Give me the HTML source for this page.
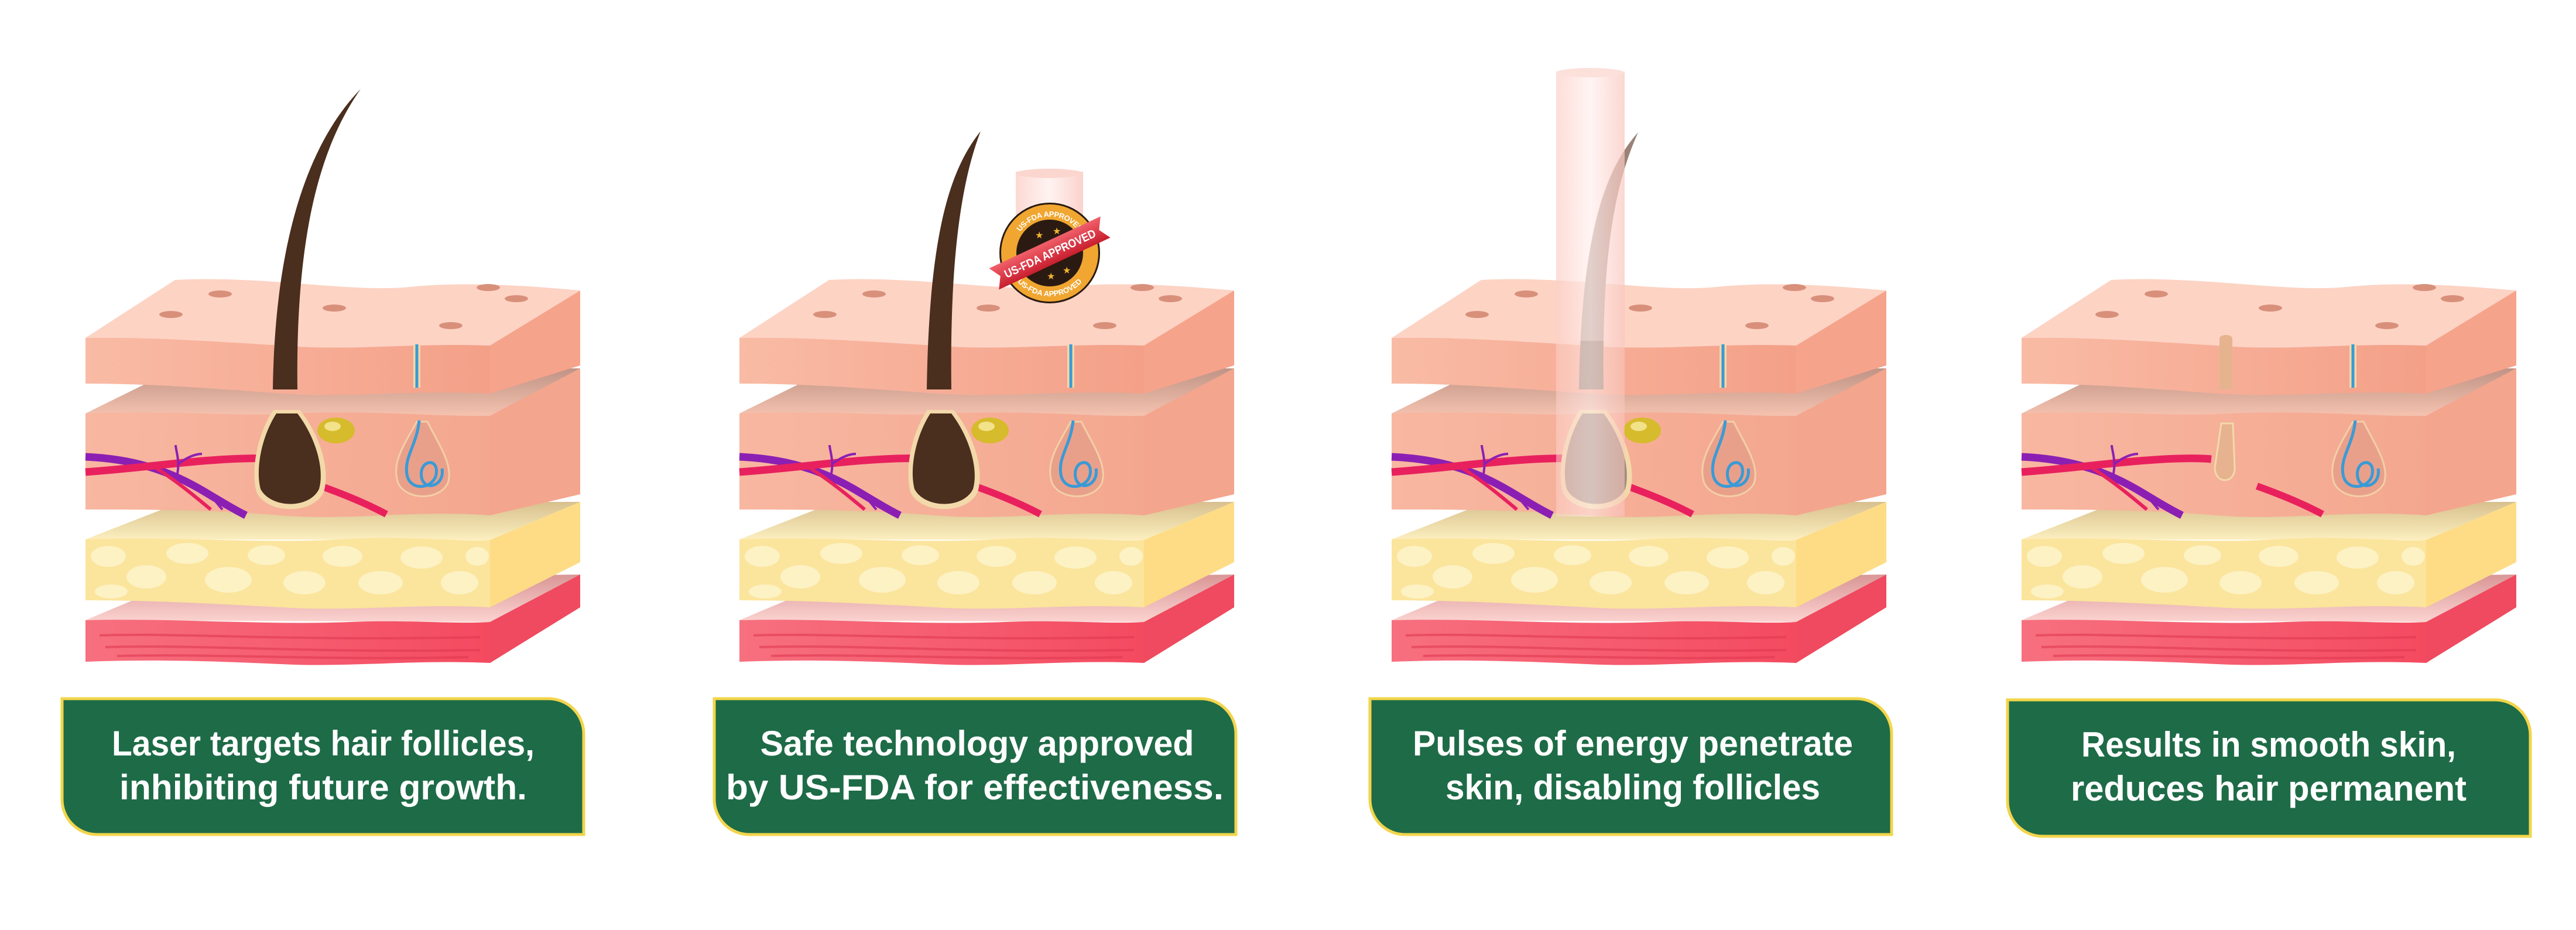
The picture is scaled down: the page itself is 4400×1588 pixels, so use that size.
<!DOCTYPE html>
<html><head><meta charset="utf-8"><style>
html,body{margin:0;padding:0;background:#fff;}
svg{display:block;}
</style></head><body>
<svg width="4400" height="1588" viewBox="0 0 4400 1588" xmlns="http://www.w3.org/2000/svg" font-family="'Liberation Sans', sans-serif">
<defs>
<linearGradient id="epiF" x1="0" x2="1"><stop offset="0" stop-color="#f9bba5"/><stop offset="1" stop-color="#f4a088"/></linearGradient>
<linearGradient id="derT" x1="0" y1="0" x2="0" y2="1"><stop offset="0" stop-color="#bf9385"/><stop offset="1" stop-color="#f6c3b0"/></linearGradient>
<linearGradient id="derF" x1="0" x2="1"><stop offset="0" stop-color="#f8b7a1"/><stop offset="1" stop-color="#f4a78f"/></linearGradient>
<linearGradient id="fatT" x1="0" y1="0" x2="0" y2="1"><stop offset="0" stop-color="#d8c08e"/><stop offset="1" stop-color="#fcefbf"/></linearGradient>
<linearGradient id="musT" x1="0" y1="0" x2="0" y2="1"><stop offset="0" stop-color="#d99696"/><stop offset="1" stop-color="#fbd3d0"/></linearGradient>
<linearGradient id="musF" x1="0" x2="1"><stop offset="0" stop-color="#f7707f"/><stop offset="1" stop-color="#f44a60"/></linearGradient>
<linearGradient id="tube" x1="0" x2="1"><stop offset="0" stop-color="#fcd0c8"/><stop offset="0.5" stop-color="#fff0ee"/><stop offset="1" stop-color="#f9c7bf"/></linearGradient>
<linearGradient id="rib" x1="0" y1="0" x2="0" y2="1"><stop offset="0" stop-color="#f0606a"/><stop offset="1" stop-color="#c81e2e"/></linearGradient>
<path id="ringTop" d="M-66,0 A66,66 0 0 1 66,0"/>
<path id="ringBot" d="M-74,0 A74,74 0 0 0 74,0"/>

<g id="skin">
  <path d="M146,1059 L310,990 L991,981 L837,1062 Z" fill="url(#musT)"/>
  <path d="M146,1059 C300,1055 450,1068 600,1062 C700,1058 780,1066 837,1062 L837,1132 C700,1126 600,1140 480,1134 C350,1128 250,1126 146,1130 Z" fill="url(#musF)"/>
  <path d="M170,1085 C300,1080 500,1095 820,1088 M180,1105 C350,1100 500,1115 820,1110 M200,1120 C380,1116 560,1128 800,1122" stroke="#e03850" stroke-width="4" fill="none" opacity="0.6"/>
  <path d="M837,1062 L991,981 L991,1037 L837,1132 Z" fill="#ef4a5f"/>
  <path d="M146,921 L310,857 L991,857 L837,922 Z" fill="url(#fatT)"/>
  <path d="M146,921 C300,915 450,930 600,920 C700,915 780,925 837,922 L837,1037 C700,1030 600,1045 480,1037 C350,1030 250,1025 146,1025 Z" fill="#fbe49c"/>
  <g fill="#fdf2c4">
    <ellipse cx="185" cy="950" rx="30" ry="18"/><ellipse cx="250" cy="985" rx="34" ry="20"/><ellipse cx="320" cy="945" rx="36" ry="18"/>
    <ellipse cx="390" cy="990" rx="40" ry="22"/><ellipse cx="455" cy="948" rx="32" ry="17"/><ellipse cx="520" cy="995" rx="36" ry="20"/>
    <ellipse cx="585" cy="950" rx="34" ry="18"/><ellipse cx="650" cy="995" rx="38" ry="20"/><ellipse cx="720" cy="952" rx="36" ry="19"/>
    <ellipse cx="785" cy="995" rx="32" ry="20"/><ellipse cx="190" cy="1010" rx="28" ry="12"/><ellipse cx="815" cy="950" rx="20" ry="16"/>
  </g>
  <path d="M837,922 L991,857 L991,960 L837,1037 Z" fill="#fddc85"/>
  <path d="M146,706 L300,630 L991,629 L837,712 Z" fill="url(#derT)"/>
  <path d="M146,706 C300,700 400,712 500,706 C650,700 750,712 837,710 L837,880 C700,870 600,890 480,880 C350,870 250,870 146,870 Z" fill="url(#derF)"/>
  <path d="M837,710 L991,629 L991,844 L837,880 Z" fill="#f4a58d"/>
  <path d="M146,780 C240,784 300,810 350,840 C380,858 400,870 420,880" stroke="#8c1fb3" stroke-width="13" fill="none"/>
  <path d="M146,806 C230,800 300,790 360,786 C410,782 450,782 470,784" stroke="#e8215e" stroke-width="13" fill="none"/>
  <path d="M548,830 C590,845 630,862 660,878" stroke="#e8215e" stroke-width="12" fill="none"/>
  <path d="M300,820 C310,790 300,770 300,760 M305,792 C320,780 335,775 345,775 M330,830 C360,840 370,860 380,870" stroke="#8c1fb3" stroke-width="4" fill="none"/>
  <path d="M260,795 C300,820 330,845 360,870" stroke="#e8215e" stroke-width="6" fill="none"/>
  <path d="M712,720 C690,760 668,790 680,825 C695,855 750,855 765,825 C775,795 750,760 730,720 Z" fill="#e9a08a" stroke="#f3cfa7" stroke-width="3"/>
  <path d="M716,718 C712,760 690,780 695,810 C700,840 740,835 745,810 C750,780 715,785 720,815 C725,840 760,830 755,800" stroke="#3a9ad6" stroke-width="5" fill="none"/>
  <path d="M146,577 L299,478 C450,470 600,500 700,490 C800,480 900,488 991,496 L837,590 C700,585 600,600 480,590 C350,582 250,575 146,577 Z" fill="#fdd3c4"/>
  <path d="M146,577 C250,575 350,582 480,590 C600,600 700,585 837,590 L837,672 C700,665 600,680 480,672 C350,662 250,655 146,655 Z" fill="url(#epiF)"/>
  <path d="M837,590 L991,496 L991,624 L837,672 Z" fill="#f6a38b"/>
  <g fill="#d8907b">
    <ellipse cx="376" cy="502" rx="20" ry="6"/><ellipse cx="292" cy="537" rx="20" ry="6"/><ellipse cx="571" cy="526" rx="20" ry="6"/>
    <ellipse cx="834" cy="491" rx="20" ry="6"/><ellipse cx="882" cy="510" rx="20" ry="6"/><ellipse cx="770" cy="556" rx="20" ry="6"/>
  </g>
  <line x1="712" y1="588" x2="712" y2="662" stroke="#f3d8a8" stroke-width="12"/>
  <line x1="712" y1="588" x2="712" y2="662" stroke="#3a9ad6" stroke-width="5"/>
</g>

<g id="hairFull">
  <path d="M467,700 C440,740 428,800 438,840 C455,878 535,880 553,840 C565,800 545,740 512,700 Z" fill="#f3d9aa"/>
  <ellipse cx="574" cy="735" rx="32" ry="22" fill="#d6bb2c"/>
  <ellipse cx="568" cy="728" rx="14" ry="8" fill="#f2e28a"/>
</g>
</defs>

<use href="#skin"/>
<use href="#hairFull"/>
<path d="M472,706 C447,745 436,800 445,835 C462,868 528,870 545,835 C555,800 538,745 508,706 Z" fill="#4a2e1e"/>
<path d="M616,152 C540,230 470,380 466,665 L508,665 C505,420 540,260 616,152 Z" fill="#4a2e1e"/>

<g transform="translate(1117,0)">
  <use href="#skin"/>
  <use href="#hairFull"/>
  <path d="M472,706 C447,745 436,800 445,835 C462,868 528,870 545,835 C555,800 538,745 508,706 Z" fill="#4a2e1e"/>
  <path d="M558,224 C505,290 470,400 466,665 L508,665 C505,440 525,310 558,224 Z" fill="#4a2e1e"/>
</g>
<rect x="1735" y="293" width="115" height="140" fill="url(#tube)" opacity="0.8"/>
<ellipse cx="1792" cy="296" rx="57" ry="8" fill="#fbd6cf"/>
<g transform="translate(1793,432)">
  <circle r="86" fill="#2a1a12"/>
  <circle r="70" fill="none" stroke="#f0a630" stroke-width="26"/>
  <circle r="56" fill="#2a1a12"/>
  <text font-size="13" font-weight="bold" fill="#fff" dy="4"><textPath href="#ringTop" startOffset="50%" text-anchor="middle">US-FDA APPROVED</textPath></text>
  <text font-size="13" font-weight="bold" fill="#fff"><textPath href="#ringBot" startOffset="50%" text-anchor="middle">US-FDA APPROVED</textPath></text>
  <g fill="#f2b62d" font-size="16"><text x="-25" y="-25">★</text><text x="5" y="-32">★</text><text x="-5" y="45">★</text><text x="22" y="35">★</text></g>
  <g transform="rotate(-25)">
    <polygon points="-105,-20 105,-20 93,0 105,20 -105,20 -93,0" fill="url(#rib)"/>
    <text x="0" y="8" font-size="20" font-weight="bold" fill="#fff" text-anchor="middle" textLength="170" lengthAdjust="spacingAndGlyphs">US-FDA APPROVED</text>
  </g>
</g>

<g transform="translate(2231,0)">
  <use href="#skin"/>
  <use href="#hairFull"/>
  <path d="M472,706 C447,745 436,800 445,835 C462,868 528,870 545,835 C555,800 538,745 508,706 Z" fill="#a48c80"/>
  <path d="M567,226 C510,290 470,400 466,665 L508,665 C505,440 525,320 567,226 Z" fill="#9a8276"/>
  <rect x="427" y="122" width="117" height="760" fill="url(#tube)" opacity="0.55"/>
  <rect x="427" y="122" width="117" height="460" fill="url(#tube)" opacity="0.35"/>
  <ellipse cx="485" cy="124" rx="58" ry="8" fill="#fce0da"/>
</g>

<g transform="translate(3307,0)">
  <use href="#skin"/>
  <path d="M484,578 C484,570 506,570 506,578 L506,665 L484,665 Z" fill="#e6b38f"/>
  <path d="M487,723 L507,723 L510,800 C510,825 478,828 476,800 Z" fill="#e7b28f" stroke="#f3d9aa" stroke-width="3"/>
</g>

<g stroke="#f2d54b" stroke-width="5" fill="#1e6b47">
  <path d="M106,1193 H937 A60,60 0 0 1 997,1253 V1425 H166 A60,60 0 0 1 106,1365 Z"/>
  <path d="M1220,1193 H2051 A60,60 0 0 1 2111,1253 V1425 H1280 A60,60 0 0 1 1220,1365 Z"/>
  <path d="M2340,1193 H3171 A60,60 0 0 1 3231,1253 V1425 H2400 A60,60 0 0 1 2340,1365 Z"/>
  <path d="M3429,1195 H4262 A60,60 0 0 1 4322,1255 V1428 H3489 A60,60 0 0 1 3429,1368 Z"/>
</g>
<g fill="#fff" font-size="60" font-weight="bold" text-anchor="middle">
  <text x="552" y="1290" textLength="722" lengthAdjust="spacingAndGlyphs">Laser targets hair follicles,</text>
  <text x="552" y="1365" textLength="696" lengthAdjust="spacingAndGlyphs">inhibiting future growth.</text>
  <text x="1669" y="1290" textLength="741" lengthAdjust="spacingAndGlyphs">Safe technology approved</text>
  <text x="1665" y="1365" textLength="850" lengthAdjust="spacingAndGlyphs">by US-FDA for effectiveness.</text>
  <text x="2789" y="1290" textLength="752" lengthAdjust="spacingAndGlyphs">Pulses of energy penetrate</text>
  <text x="2789" y="1365" textLength="640" lengthAdjust="spacingAndGlyphs">skin, disabling follicles</text>
  <text x="3875" y="1292" textLength="640" lengthAdjust="spacingAndGlyphs">Results in smooth skin,</text>
  <text x="3875" y="1367" textLength="676" lengthAdjust="spacingAndGlyphs">reduces hair permanent</text>
</g>
</svg>
</body></html>
